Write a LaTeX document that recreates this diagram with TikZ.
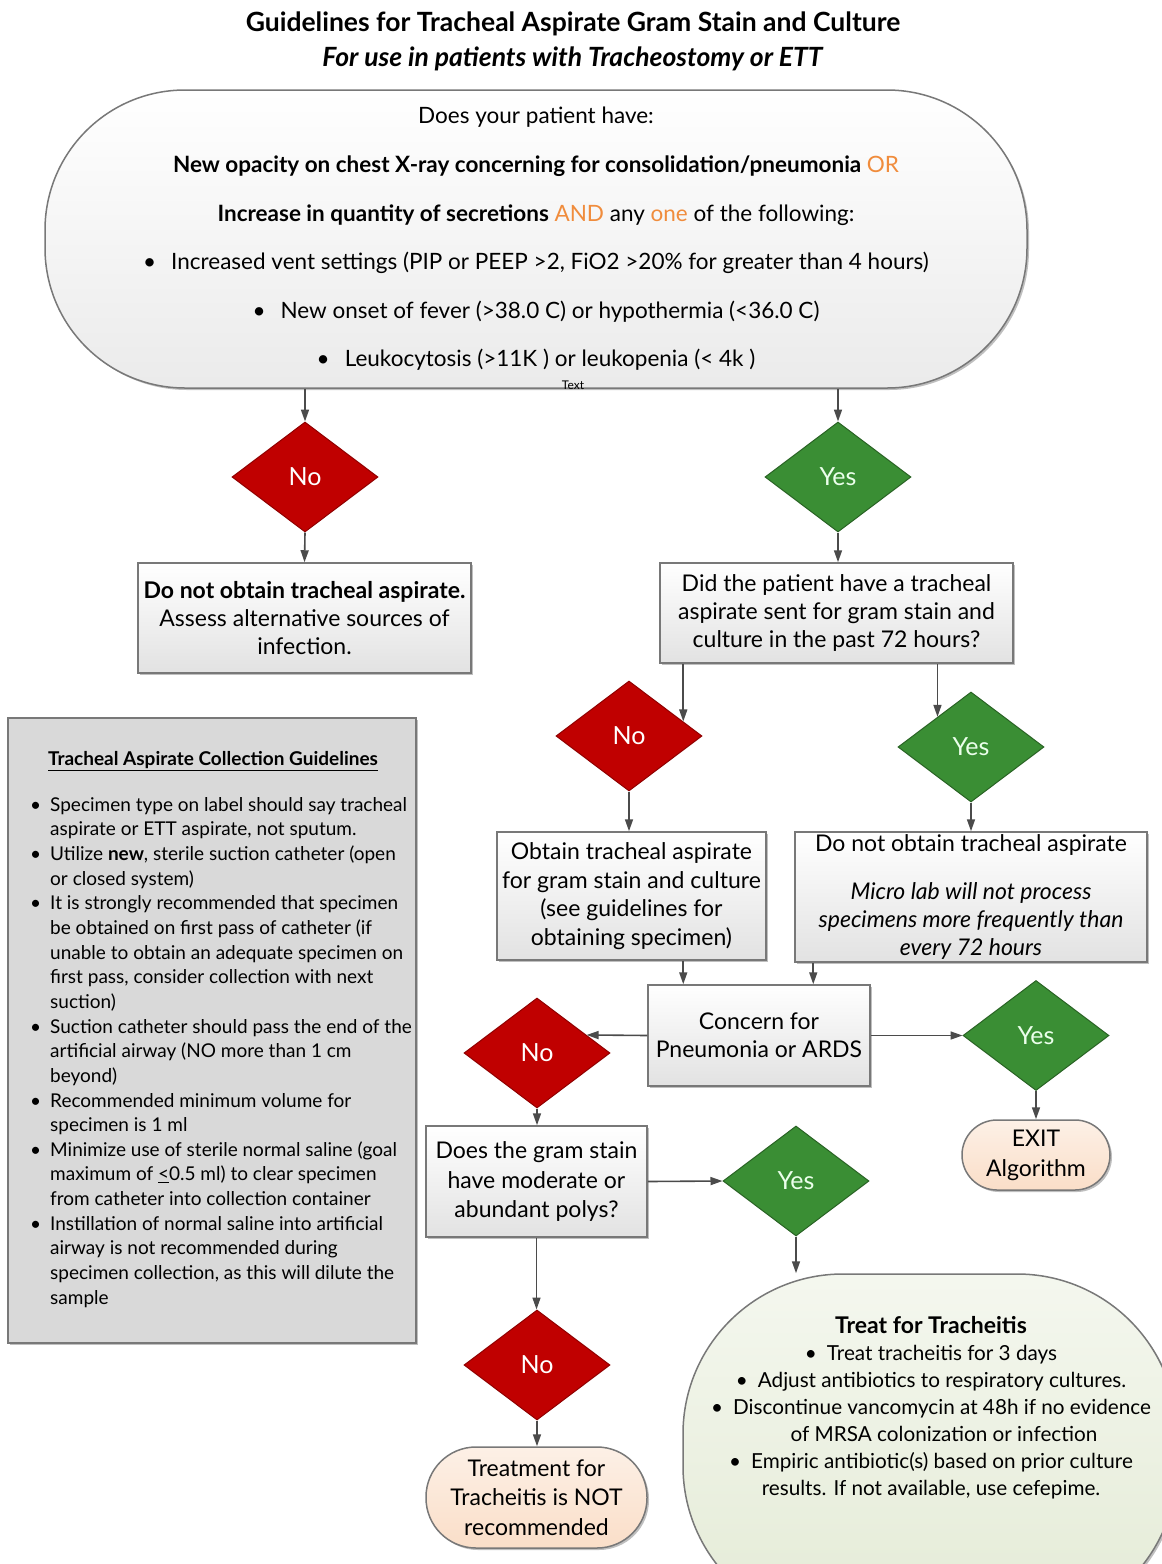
\documentclass[tikz,border=0pt]{standalone}
\usepackage{fontspec}
\setmainfont{Lato}
\usepackage{tikz}
\usetikzlibrary{arrows.meta,shapes.geometric,shadows,positioning,calc}
\definecolor{nored}{RGB}{192,0,0}
\definecolor{yesgreen}{RGB}{58,142,52}
\definecolor{orangetxt}{RGB}{240,140,60}
\definecolor{linegray}{RGB}{75,75,75}
\definecolor{boxedge}{RGB}{120,120,120}
\definecolor{boxlow}{RGB}{226,226,226}
\definecolor{peach}{RGB}{250,222,200}
\definecolor{sage}{RGB}{228,235,214}
\definecolor{panelgray}{RGB}{217,217,217}
\newcommand{\fs}[2]{\fontsize{#1}{#2}\selectfont}

\begin{document}
\begin{tikzpicture}[x=1pt,y=-1pt,
  arr/.style={draw=linegray,line width=1.6pt,-{Triangle[length=12pt,width=8pt]}},
  shade/.style={drop shadow={shadow xshift=2pt,shadow yshift=-2pt,opacity=0.25,fill=black}},
  qbox/.style={draw=boxedge,line width=1.5pt,top color=white,bottom color=boxlow,shade,align=center,inner sep=0pt,font=\fs{23}{28}},
  capbox/.style={qbox,top color=peach!45!white,bottom color=peach,font=\fs{23}{30}},
  nodiam/.style={diamond,aspect=1.33,minimum width=146pt,minimum height=110pt,inner sep=0pt,fill=nored,draw=nored!75!black,line width=1pt,text=white,font=\fs{25}{28}},
  yesdiam/.style={nodiam,fill=yesgreen,draw=yesgreen!70!black,text=green!8!white}]
\path[fill=white,use as bounding box] (0,0) rectangle (1162,1564);
\clip (0,0) rectangle (1162,1564);

\node[align=center,font=\fs{26.5}{35}\bfseries] (title) at (573,41) {Guidelines for Tracheal Aspirate Gram Stain and Culture\\\textit{For use in patients with Tracheostomy or ETT}};

\node[qbox,rounded corners=140pt,minimum width=982pt,minimum height=298pt,font=\fs{22.5}{48.6},bottom color=boxlow!70!white] (ask) at (536,239) {Does your patient have:\\
\textbf{New opacity on chest X-ray concerning for consolidation/pneumonia} {\color{orangetxt}OR}\\
\textbf{Increase in quantity of secretions} {\color{orangetxt}AND} any {\color{orangetxt}one} of the following:\\
\textbullet\hspace{15pt}Increased vent settings (PIP or PEEP >2, FiO2 >20\% for greater than 4 hours)\\
\textbullet\hspace{15pt}New onset of fever (>38.0 C) or hypothermia (<36.0 C)\\
\textbullet\hspace{15pt}Leukocytosis (>11K ) or leukopenia (< 4k )};
\node[font=\fs{12}{14}] (txtlbl) at (573,385) {Text};

\node[nodiam] (no1) at (305,477) {No};
\node[yesdiam] (yes1) at (838,477) {Yes};
\node[qbox,minimum width=333pt,minimum height=110pt] (skip) at (304.5,618) {\textbf{Do not obtain tracheal aspirate.}\\Assess alternative sources of\\infection.};
\node[qbox,minimum width=353pt,minimum height=100pt] (did) at (836.5,613) {Did the patient have a tracheal\\aspirate sent for gram stain and\\culture in the past 72 hours?};

\node[nodiam] (no2) at (629,736) {No};
\node[yesdiam] (yes2) at (971,747) {Yes};
\node[qbox,minimum width=269pt,minimum height=128pt,font=\fs{23}{28.5}] (obtain) at (631.5,896) {Obtain tracheal aspirate\\for gram stain and culture\\(see guidelines for\\obtaining specimen)};
\node[qbox,minimum width=352pt,minimum height=130pt] (donot) at (971,897) {Do not obtain tracheal aspirate\\[20pt]\textit{Micro lab will not process}\\\textit{specimens more frequently than}\\\textit{every 72 hours}};

\node[qbox,minimum width=222pt,minimum height=101pt] (concern) at (759,1035.5) {Concern for\\Pneumonia or ARDS};
\coordinate (cin1) at ($(concern.north west)+(36,0)$);
\coordinate (cin2) at ($(concern.north west)+(166,0)$);
\node[nodiam] (no3) at (537,1053) {No};
\node[yesdiam] (yes3) at (1036,1035.5) {Yes};
\node[capbox,rounded corners=35pt,minimum width=148pt,minimum height=70pt] (exit) at (1036,1155) {EXIT\\Algorithm};

\node[qbox,minimum width=221pt,minimum height=111pt,font=\fs{23}{29.5}] (polys) at (536.5,1181.5) {Does the gram stain\\have moderate or\\abundant polys?};
\node[yesdiam] (yes4) at (796,1181) {Yes};
\node[nodiam] (no4) at (537,1365) {No};
\node[capbox,rounded corners=50pt,minimum width=221pt,minimum height=101pt,font=\fs{23}{29.5}] (notrec) at (536.5,1497.5) {Treatment for\\Tracheitis is NOT\\recommended};

\node[draw=boxedge,line width=1.5pt,top color=sage!40!white,bottom color=sage,shade,rounded corners=160pt,minimum width=494pt,minimum height=352pt] (treat) at (930,1450) {};
\node[align=center,font=\fs{20.7}{27}] (treattxt) at (931,1408) {{\fs{23}{27}\bfseries Treat for Tracheitis}\\
\textbullet\hspace{10pt}Treat tracheitis for 3 days\\
\textbullet\hspace{10pt}Adjust antibiotics to respiratory cultures.\\
\textbullet\hspace{10pt}Discontinue vancomycin at 48h if no evidence\\
\hspace*{26pt}of MRSA colonization or infection\\
\textbullet\hspace{10pt}Empiric antibiotic(s) based on prior culture\\
results. If not available, use cefepime.};

\node[draw=boxedge,line width=1.5pt,fill=panelgray,shade,minimum width=408pt,minimum height=625pt] (panel) at (212,1030.5) {};
\node[font=\fs{19}{20}\bfseries] (paneltitle) at (213,761) {\underline{Tracheal Aspirate Collection Guidelines}};
\node[anchor=north west,align=left,inner sep=0pt,font=\fs{19}{24.65}] (panellist) at (30,797) {%
\makebox[20pt][l]{\textbullet}Specimen type on label should say tracheal\\
\hspace*{20pt}aspirate or ETT aspirate, not sputum.\\
\makebox[20pt][l]{\textbullet}Utilize \textbf{new}, sterile suction catheter (open\\
\hspace*{20pt}or closed system)\\
\makebox[20pt][l]{\textbullet}It is strongly recommended that specimen\\
\hspace*{20pt}be obtained on first pass of catheter (if\\
\hspace*{20pt}unable to obtain an adequate specimen on\\
\hspace*{20pt}first pass, consider collection with next\\
\hspace*{20pt}suction)\\
\makebox[20pt][l]{\textbullet}Suction catheter should pass the end of the\\
\hspace*{20pt}artificial airway (NO more than 1 cm\\
\hspace*{20pt}beyond)\\
\makebox[20pt][l]{\textbullet}Recommended minimum volume for\\
\hspace*{20pt}specimen is 1 ml\\
\makebox[20pt][l]{\textbullet}Minimize use of sterile normal saline (goal\\
\hspace*{20pt}maximum of \underline{<}0.5 ml) to clear specimen\\
\hspace*{20pt}from catheter into collection container\\
\makebox[20pt][l]{\textbullet}Instillation of normal saline into artificial\\
\hspace*{20pt}airway is not recommended during\\
\hspace*{20pt}specimen collection, as this will dilute the\\
\hspace*{20pt}sample};

\draw[arr] (ask.south -| no1.north) -- (no1.north);
\draw[arr] (ask.south -| yes1.north) -- (yes1.north);
\draw[arr] (no1.south) -- (skip.north);
\draw[arr] (yes1.south) -- (yes1.south |- did.north);
\draw[arr] (did.south -| no2.15) -- (no2.15);
\draw[arr] (did.south -| yes2.138) -- (yes2.138);
\draw[arr] (no2.south) -- (no2.south |- obtain.north);
\draw[arr] (yes2.south) -- (donot.north);
\draw[arr] (obtain.south -| cin1) -- (cin1);
\draw[arr] (donot.south -| cin2) -- (cin2);
\draw[arr] (concern.west) -- (no3.20);
\draw[arr] (concern.east) -- (yes3.west);
\draw[arr] (yes3.south) -- (exit.north);
\draw[arr] (no3.south) -- (no3.south |- polys.north);
\draw[arr] (polys.east) -- (yes4.west);
\draw[arr] (yes4.south) -- (yes4.south |- treat.north);
\draw[arr] (polys.south) -- (polys.south |- no4.north);
\draw[arr] (no4.south) -- (no4.south |- notrec.north);
\end{tikzpicture}
\end{document}
